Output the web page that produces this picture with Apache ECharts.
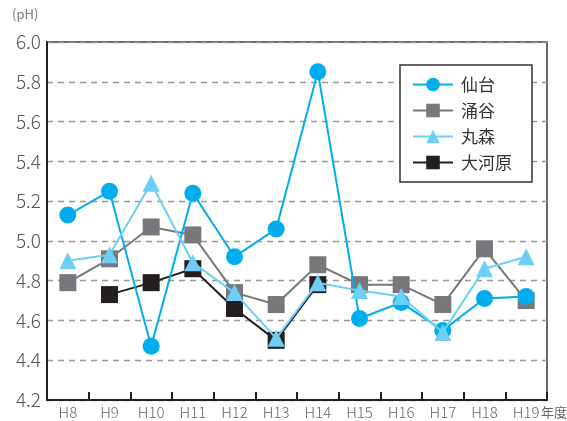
<!DOCTYPE html>
<html><head><meta charset="utf-8">
<script src="https://cdn.jsdelivr.net/npm/echarts@6/dist/echarts.min.js"></script>
<style>html,body{margin:0;padding:0;background:#fff}#c{width:567px;height:421px}</style>
</head><body><div id="c"></div>
<script>
const categories = ['H8','H9','H10','H11','H12','H13','H14','H15','H16','H17','H18','H19'];
const sendai   = [5.13,5.25,4.47,5.24,4.92,5.06,5.85,4.61,4.69,4.55,4.71,4.72];
const wakuya   = [4.79,4.91,5.07,5.03,4.74,4.68,4.88,4.78,4.78,4.68,4.96,4.70];
const marumori = [4.90,4.93,5.29,4.89,4.74,4.51,4.79,4.75,4.72,4.54,4.86,4.92];
const ogawara  = [null,4.73,4.79,4.86,4.66,4.50,4.78,null,null,null,null,null];
const font = '"Noto Sans CJK JP", "Noto Sans", sans-serif';
const chart = echarts.init(document.getElementById('c'));
function s(name, data, symbol, color, z){
  return {name, type:'line', data, symbol, symbolSize:17,
    lineStyle:{color, width:2}, itemStyle:{color, opacity:1}, z, connectNulls:false, animation:false};
}
chart.setOption({
  animation:false,
  grid:{left:47, right:20, top:42, bottom:21, show:true, borderColor:'#3a3a3a', borderWidth:1.5},
  xAxis:{type:'category', data:categories, boundaryGap:true,
    axisLine:{lineStyle:{color:'#231f20', width:2}},
    axisTick:{show:true, inside:true, interval:0, length:8, lineStyle:{color:'#231f20', width:2}},
    axisLabel:{color:'#666', fontSize:15, fontWeight:300, fontFamily:font, margin:5, interval:0}},
  yAxis:{type:'value', min:4.2, max:6.0, interval:0.2,
    axisLine:{show:true, lineStyle:{color:'#231f20', width:2}},
    axisTick:{show:false},
    splitLine:{lineStyle:{color:'#999', type:[6,5], width:1.3}},
    axisLabel:{color:'#555', fontSize:19, fontWeight:300, fontFamily:font, margin:6,
      formatter: v => v.toFixed(1)}},
  legend:{orient:'vertical', left:400, top:65, itemWidth:40, itemHeight:17, itemGap:9,
    padding:[11,20,11,12], borderColor:'#333', borderWidth:1.5, backgroundColor:'#fff',
    textStyle:{fontSize:17, color:'#333', fontFamily:font, padding:[0,0,0,3]},
    data:['仙台','涌谷','丸森','大河原']},
  graphic:[
    {type:'text', left:12, top:8, style:{text:'(pH)', fontSize:13, fill:'#777', fontFamily:font}},
    {type:'text', left:541, top:406, style:{text:'年度', fontSize:13, fill:'#666', fontFamily:font}}
  ],
  series:[
    s('仙台', sendai, 'circle', '#00aeef', 4),
    s('涌谷', wakuya, 'rect', '#77787b', 2),
    s('丸森', marumori, 'triangle', '#6dcff6', 5),
    s('大河原', ogawara, 'rect', '#231f20', 3)
  ]
});
</script></body></html>
